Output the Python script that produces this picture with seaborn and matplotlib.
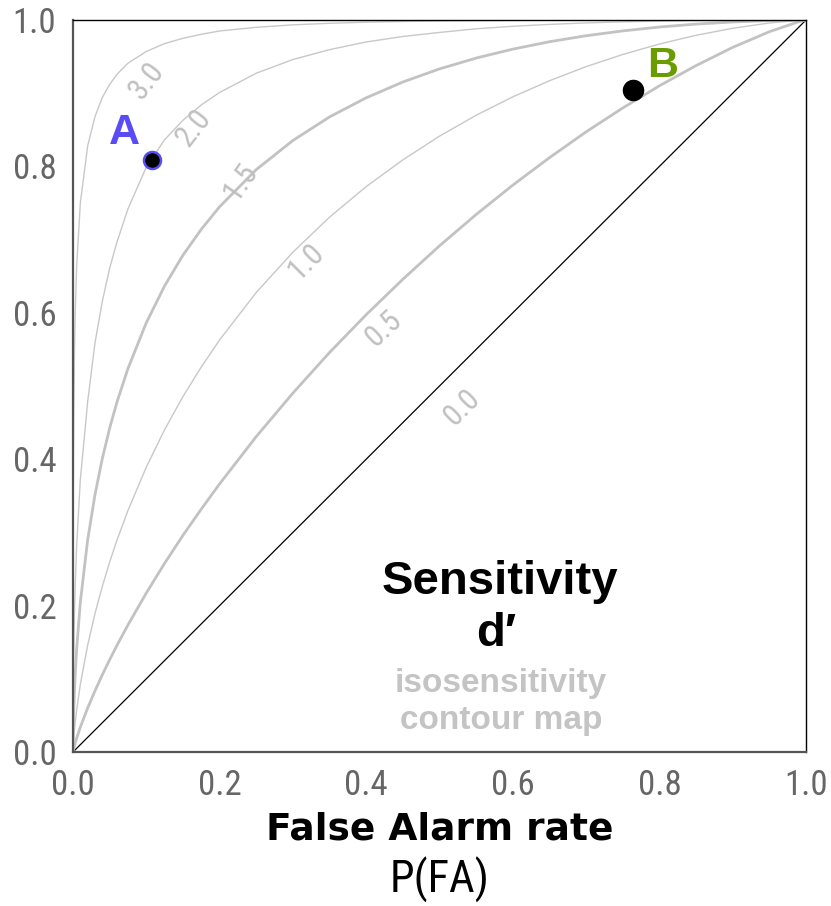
import matplotlib
matplotlib.use("Agg")
import matplotlib.pyplot as plt
from matplotlib import font_manager
import seaborn as sns
import pandas as pd

# ---------------- data ----------------
fa_rate = [0, 1e-5, 1e-4, 0.0005, 0.001, 0.002, 0.003, 0.005, 0.01, 0.02, 0.03, 0.04,
           0.05, 0.06, 0.075, 0.1, 0.125, 0.15, 0.175, 0.2, 0.25, 0.3, 0.35, 0.4,
           0.45, 0.5, 0.55, 0.6, 0.65, 0.7, 0.75, 0.8, 0.85, 0.9, 0.95, 0.99, 1.0]
hit_d00 = [0, 1e-5, 1e-4, 0.0005, 0.001, 0.002, 0.003, 0.005, 0.01, 0.02, 0.03, 0.04,
           0.05, 0.06, 0.075, 0.1, 0.125, 0.15, 0.175, 0.2, 0.25, 0.3, 0.35, 0.4,
           0.45, 0.5, 0.55, 0.6, 0.65, 0.7, 0.75, 0.8, 0.85, 0.9, 0.95, 0.99, 1.0]
hit_d05 = [0, 0.0001, 0.0006, 0.0026, 0.0048, 0.0087, 0.0123, 0.0189, 0.0339, 0.0601,
           0.0836, 0.1055, 0.1261, 0.1457, 0.1736, 0.2172, 0.2578, 0.2960, 0.3318,
           0.3663, 0.4309, 0.4903, 0.5458, 0.5974, 0.6458, 0.6915, 0.7343, 0.7744,
           0.8119, 0.8472, 0.8798, 0.9101, 0.9377, 0.9626, 0.9840, 0.9976, 1.0]
hit_d10 = [0, 0.0006, 0.0033, 0.0110, 0.0183, 0.0302, 0.0402, 0.0575, 0.0924, 0.1459,
           0.1892, 0.2263, 0.2595, 0.2894, 0.3300, 0.3891, 0.4404, 0.4856, 0.5259,
           0.5629, 0.6278, 0.6828, 0.7307, 0.7724, 0.8089, 0.8413, 0.8699, 0.8950,
           0.9170, 0.9363, 0.9529, 0.9672, 0.9791, 0.9887, 0.9959, 0.9996, 1.0]
hit_d15 = [0, 0.0028, 0.0132, 0.0367, 0.0559, 0.0841, 0.1060, 0.1410, 0.2044, 0.2898,
           0.3516, 0.4009, 0.4424, 0.4781, 0.5239, 0.5864, 0.6368, 0.6787, 0.7140,
           0.7449, 0.7956, 0.8354, 0.8676, 0.8937, 0.9153, 0.9332, 0.9480, 0.9602,
           0.9703, 0.9785, 0.9851, 0.9904, 0.9944, 0.9973, 0.9992, 1.0, 1.0]
hit_d20 = [0, 0.0118, 0.0428, 0.0984, 0.1379, 0.1900, 0.2272, 0.2823, 0.3722, 0.4785,
           0.5590, 0.6156, 0.6610, 0.6967, 0.7420, 0.7990, 0.8365, 0.8630, 0.8840,
           0.9010, 0.9273, 0.9460, 0.9595, 0.9700, 0.9775, 0.9830, 0.9880, 0.9914,
           0.9940, 0.9960, 0.9975, 0.9985, 0.9993, 0.9997, 0.9999, 1.0, 1.0]
hit_d30 = [0, 0.103, 0.236, 0.3855, 0.464, 0.5486, 0.5995, 0.664, 0.750, 0.828, 0.868,
           0.8942, 0.912, 0.9258, 0.941, 0.957, 0.9678, 0.975, 0.9805, 0.985, 0.990,
           0.9934, 0.9955, 0.997, 0.998, 0.9987, 0.9991, 0.9995, 0.9997, 0.9998,
           0.9999, 1.0, 1.0, 1.0, 1.0, 1.0, 1.0]

curve_names = ["0.0", "0.5", "1.0", "1.5", "2.0", "3.0"]
curve_hits = [hit_d00, hit_d05, hit_d10, hit_d15, hit_d20, hit_d30]

# contour label positions (FA, Hit) and rotation
label_x = [0.530, 0.424, 0.318, 0.229, 0.165, 0.101]
label_y = [0.471, 0.578, 0.670, 0.780, 0.853, 0.917]
label_rot = [45, 43, 45, 55, 52, 52]

point_names = ["A", "B"]
point_fa = [0.108, 0.764]
point_hit = [0.809, 0.904]

ticks = [0.0, 0.2, 0.4, 0.6, 0.8, 1.0]
tick_labels = ["0.0", "0.2", "0.4", "0.6", "0.8", "1.0"]

# ---------------- style ----------------
sns.set_theme(style="white")
plt.rcParams["font.family"] = ["DejaVu Sans"]
available = {f.name for f in font_manager.fontManager.ttflist}
narrow = [f for f in ["Liberation Sans Narrow", "DejaVu Sans Condensed", "Roboto Condensed"]
          if f in available]
narrow_family = narrow[0] if narrow else "DejaVu Sans"

fig = plt.figure(figsize=(8.31, 9.06), dpi=100)
ax = fig.add_axes([73 / 831, 1 - 752 / 906, 733 / 831, 732 / 906])

rows = []
for name, hits in zip(curve_names, curve_hits):
    for f, h in zip(fa_rate, hits):
        rows.append({"fa": f, "hit": h, "d": name})
df = pd.DataFrame(rows)

styles = {
    "0.0": ("black", 0.9),
    "0.5": ("#c2c2c2", 2.0),
    "1.0": ("#c8c8c8", 1.0),
    "1.5": ("#c2c2c2", 2.0),
    "2.0": ("#c8c8c8", 1.0),
    "3.0": ("#c8c8c8", 1.0),
}
for name in curve_names:
    col, lw = styles[name]
    sns.lineplot(data=df[df["d"] == name], x="fa", y="hit", ax=ax, color=col,
                 linewidth=lw, sort=False, estimator=None, zorder=2)

for name, lx, ly, rot in zip(curve_names, label_x, label_y, label_rot):
    ax.text(lx, ly, name, rotation=rot, ha="center", va="center", fontsize=22,
            color="#c0c0c0", family=narrow_family, zorder=3)

pts = pd.DataFrame({"fa": point_fa, "hit": point_hit, "name": point_names})
sns.scatterplot(data=pts[pts["name"] == "A"], x="fa", y="hit", ax=ax, s=150,
                color="black", edgecolor="#5a4cf5", linewidth=1.8, zorder=5)
sns.scatterplot(data=pts[pts["name"] == "B"], x="fa", y="hit", ax=ax, s=210,
                color="black", edgecolor="black", linewidth=1, zorder=5)
ax.text(point_fa[0] - 0.038, point_hit[0] + 0.036, "A", color="#5a4cf5",
        fontsize=31, fontweight="bold", family="Liberation Sans",
        ha="center", va="center", zorder=6)
ax.text(point_fa[1] + 0.04, point_hit[1] + 0.033, "B", color="#6a9c00",
        fontsize=31, fontweight="bold", family="Liberation Sans",
        ha="center", va="center", zorder=6)

ax.text(0.582, 0.232, "Sensitivity", fontsize=34, fontweight="bold", color="black",
        family="Liberation Sans", ha="center", va="center")
ax.text(0.578, 0.161, "d\u2032", fontsize=34, fontweight="bold", color="black",
        family="Liberation Sans", ha="center", va="center")
ax.text(0.584, 0.093, "isosensitivity", fontsize=24, fontweight="bold",
        family="Liberation Sans", color="#c4c4c4", ha="center", va="center")
ax.text(0.584, 0.043, "contour map", fontsize=24, fontweight="bold",
        family="Liberation Sans", color="#c4c4c4", ha="center", va="center")

ax.set_xlim(0, 1)
ax.set_ylim(0, 1)
ax.set_xticks(ticks)
ax.set_xticklabels(tick_labels)
ax.set_yticks(ticks)
ax.set_yticklabels(tick_labels)
ax.tick_params(axis="both", length=0, labelsize=25, labelcolor="#666666")
ax.tick_params(axis="x", pad=12)
ax.tick_params(axis="y", pad=12)
for lab in ax.get_xticklabels() + ax.get_yticklabels():
    lab.set_family(narrow_family)
ax.set_xlabel("")
ax.set_ylabel("")

for side in ["top", "right"]:
    ax.spines[side].set_color("black")
    ax.spines[side].set_linewidth(1.0)
for side in ["left", "bottom"]:
    ax.spines[side].set_color("#555555")
    ax.spines[side].set_linewidth(1.6)
for sp in ax.spines.values():
    sp.set_visible(True)
    sp.set_zorder(4)

fig.text(440 / 831, 1 - 830 / 906, "False Alarm rate", fontsize=27, fontweight="bold",
         ha="center", va="center", family="DejaVu Sans", color="black")
fig.text(440 / 831, 1 - 880 / 906, "P(FA)", fontsize=32, ha="center", va="center",
         family=narrow_family, color="black")

fig.savefig("out.png", dpi=100)
